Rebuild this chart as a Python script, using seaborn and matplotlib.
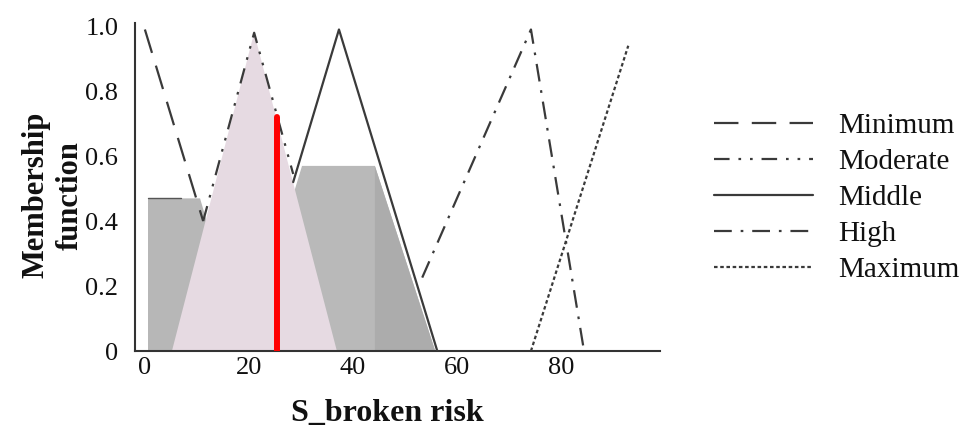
import matplotlib
matplotlib.use("Agg")
import matplotlib.pyplot as plt
import seaborn as sns
import pandas as pd

# ---- data ----
minimum_x = [0.0, 11.2]
minimum_y = [0.99, 0.40]
moderate_x = [11.2, 21.0, 28.5]
moderate_y = [0.40, 0.98, 0.545]
middle_x = [28.5, 37.3, 56.2]
middle_y = [0.52, 0.99, 0.0]
high_x = [53.3, 74.2, 84.4]
high_y = [0.226, 0.99, 0.0]
maximum_x = [74.2, 92.9]
maximum_y = [0.0, 0.94]

pink_x = [5.2, 21.0, 36.9]
pink_y = [0.0, 0.98, 0.0]
gray_left_x = [0.6, 0.6, 10.6, 19.3]
gray_left_y = [0.0, 0.47, 0.47, 0.0]
gray_right_x = [19.4, 30.2, 44.2, 55.8]
gray_right_y = [0.0, 0.57, 0.57, 0.0]
gray_dark_x = [44.2, 44.2, 55.8]
gray_dark_y = [0.0, 0.57, 0.0]
cut_x = [25.4, 25.4]
cut_y = [0.0, 0.72]

x_ticks = [0, 20, 40, 60, 80]
y_ticks = [0, 0.2, 0.4, 0.6, 0.8, 1.0]
y_tick_labels = ["0", "0.2", "0.4", "0.6", "0.8", "1.0"]

sns.set_theme(style="white")
plt.rcParams['font.family'] = ['Liberation Serif', 'DejaVu Serif']

fig = plt.figure(figsize=(9.75, 4.32), dpi=100)
ax = fig.add_axes([135/975, 1-351/432, 525/975, 328/432])

line_col = "#3a3a3a"

# fills
ax.fill(gray_left_x, gray_left_y, color="#b7b7b7", lw=0, zorder=1)
ax.fill(gray_right_x, gray_right_y, color="#b9b9b9", lw=0, zorder=1)
ax.fill(gray_dark_x, gray_dark_y, color="#acacac", lw=0, zorder=1.1)
ax.fill(pink_x, pink_y, color="#e6dae2", lw=0, zorder=2)
sns.lineplot(x=[gray_left_x[1], 7.0], y=[gray_left_y[1]] * 2, color="#555555", lw=1.0,
             estimator=None, sort=False, ax=ax, zorder=2.5)

series = [
    ("Minimum", minimum_x, minimum_y, (0, (11, 6))),
    ("Moderate", moderate_x, moderate_y, (0, (7, 4, 1.2, 4, 1.2, 4))),
    ("Middle", middle_x, middle_y, "-"),
    ("High", high_x, high_y, (0, (8, 4, 1.2, 4))),
    ("Maximum", maximum_x, maximum_y, (0, (1.6, 1.2))),
]
for name, xs, ys, ls in series:
    df = pd.DataFrame({"x": xs, "y": ys})
    sns.lineplot(data=df, x="x", y="y", sort=False, estimator=None, color=line_col, lw=1.6,
                 linestyle=ls, label=name, ax=ax, zorder=3)

sns.lineplot(x=cut_x, y=cut_y, color="#ff0000", lw=4.3, estimator=None, sort=False,
             ax=ax, zorder=4)

ax.set_xlim(-1.9, 99)
ax.set_ylim(0, 1.01)
ax.set_xticks(x_ticks)
ax.set_xticklabels([str(t) for t in x_ticks])
ax.set_yticks(y_ticks)
ax.set_yticklabels(y_tick_labels)
ax.tick_params(axis="both", length=0, labelsize=19, colors="#111111")
ax.tick_params(axis="x", pad=4)
ax.tick_params(axis="y", pad=12)
for s in ["top", "right"]:
    ax.spines[s].set_visible(False)
for s in ["left", "bottom"]:
    ax.spines[s].set_color("#333333")
    ax.spines[s].set_linewidth(1.5)

ax.set_xlabel("S_broken risk", fontsize=23, fontweight="bold", color="#111111")
ax.xaxis.set_label_coords(0.48, -0.145)
ax.set_ylabel("Membership\nfunction", fontsize=22, fontweight="bold", color="#111111",
              linespacing=1.25)
ax.yaxis.set_label_coords(-0.095, 0.475)

leg = ax.legend(loc="center left", bbox_to_anchor=(1.053, 0.466), frameon=False,
                fontsize=21, handlelength=3.4, handletextpad=0.85, labelspacing=0.33)
for t in leg.get_texts():
    t.set_color("#111111")

fig.savefig("out.png", dpi=100)
